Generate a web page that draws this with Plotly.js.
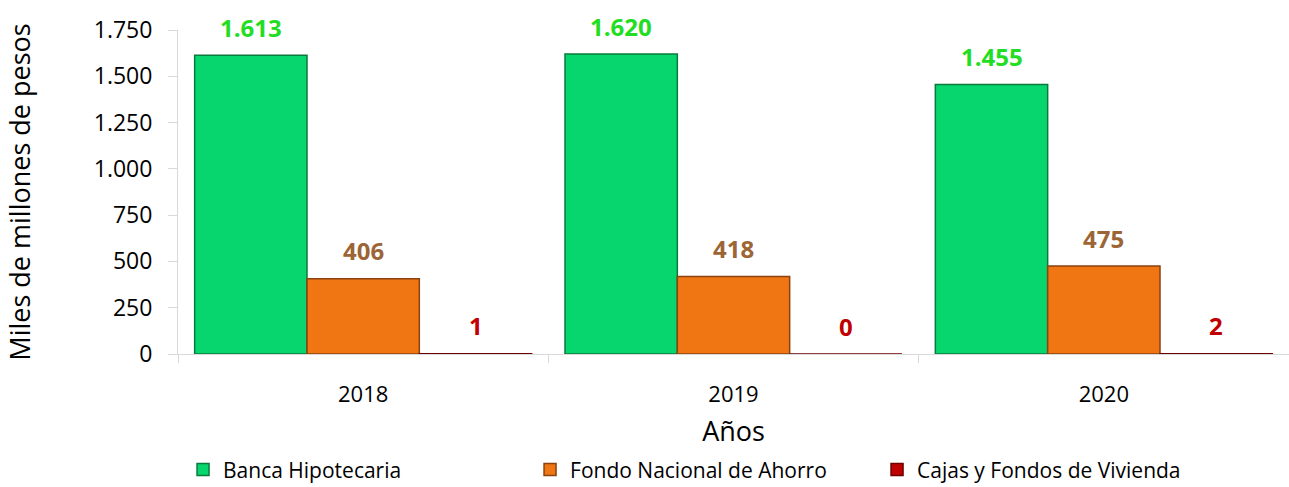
<!DOCTYPE html>
<html>
<head>
<meta charset="utf-8">
<script src="https://cdn.plot.ly/plotly-3.0.1.min.js"></script>
<style>html,body{margin:0;padding:0;background:#fff;}#chart{width:1289px;height:487px;}</style>
</head>
<body>
<div id="chart"></div>
<script>
const years = ['2018', '2019', '2020'];
const bancaHipotecaria = [1613, 1620, 1455];
const fondoNacional = [406, 418, 475];
const cajasFondos = [1, 0, 2];
const seriesNames = ['Banca Hipotecaria', 'Fondo Nacional de Ahorro', 'Cajas y Fondos de Vivienda'];
const yTicks = [0, 250, 500, 750, 1000, 1250, 1500, 1750];

const fillColors = ['#07D56E', '#F07613', '#C00000'];
const edgeColors = ['#0A7A3C', '#8A4210', '#6E0000'];
const labelColors = ['#22DD22', '#9C6535', '#C00000'];
const seriesData = [bancaHipotecaria, fondoNacional, cajasFondos];

const BARGAP = 0.09;
const nSeries = seriesData.length;
const barW = (1 - BARGAP) / nSeries;

const traces = seriesData.map((vals, i) => ({
  type: 'bar',
  name: seriesNames[i],
  x: years,
  y: vals,
  marker: {color: fillColors[i], line: {color: edgeColors[i], width: 1.5}},
  hoverinfo: 'skip'
}));

// value labels placed above each bar, derived from the data and bar layout
const fmt = v => v.toLocaleString('de-DE');
const annotations = [];
seriesData.forEach((vals, i) => {
  vals.forEach((v, j) => {
    annotations.push({
      x: j + (i - (nSeries - 1) / 2) * barW,
      y: v,
      xref: 'x', yref: 'y',
      text: fmt(v),
      showarrow: false,
      yanchor: 'middle',
      xanchor: 'center',
      yshift: 28,
      font: {family: 'Open Sans, sans-serif', size: 24, color: labelColors[i], weight: 'bold'}
    });
  });
});

const layout = {
  width: 1289,
  height: 487,
  margin: {l: 178, r: 0, t: 30, b: 133},
  paper_bgcolor: '#ffffff',
  plot_bgcolor: '#ffffff',
  separators: ',.',
  barmode: 'group',
  bargap: BARGAP,
  bargroupgap: 0,
  font: {family: 'Open Sans, sans-serif', color: '#000000'},
  annotations: annotations,
  showlegend: true,
  legend: {
    orientation: 'h',
    xref: 'container', x: 0.142, xanchor: 'left',
    yref: 'container', y: 0.035, yanchor: 'middle',
    font: {family: 'Open Sans, sans-serif', size: 21, color: '#000000'},
    itemwidth: 30,
    entrywidth: 302,
    entrywidthmode: 'pixels',
    traceorder: 'normal'
  },
  xaxis: {
    type: 'category',
    range: [-0.5, 2.5],
    showgrid: false,
    showline: true,
    linecolor: '#d9d9d9',
    linewidth: 1,
    ticks: 'outside',
    tickson: 'boundaries',
    ticklen: 8,
    tickcolor: '#d9d9d9',
    tickfont: {family: 'Open Sans, sans-serif', size: 22, color: '#000000'},
    ticklabelstandoff: 21,
    title: {text: 'Años', font: {family: 'Open Sans, sans-serif', size: 27, color: '#000000'}, standoff: 30},
    automargin: false,
    fixedrange: true
  },
  yaxis: {
    range: [0, 1750],
    tickvals: yTicks,
    tickformat: ',d',
    showgrid: false,
    zeroline: false,
    showline: true,
    linecolor: '#d9d9d9',
    linewidth: 1,
    ticks: 'outside',
    ticklen: 9,
    tickcolor: '#d9d9d9',
    tickfont: {family: 'Open Sans, sans-serif', size: 23, color: '#000000'},
    ticklabelstandoff: 11,
    title: {text: 'Miles de millones de pesos', font: {family: 'Open Sans, sans-serif', size: 27, color: '#000000'}, standoff: 55},
    automargin: false,
    fixedrange: true
  }
};

Plotly.newPlot('chart', traces, layout, {displayModeBar: false, staticPlot: true});
</script>
</body>
</html>
